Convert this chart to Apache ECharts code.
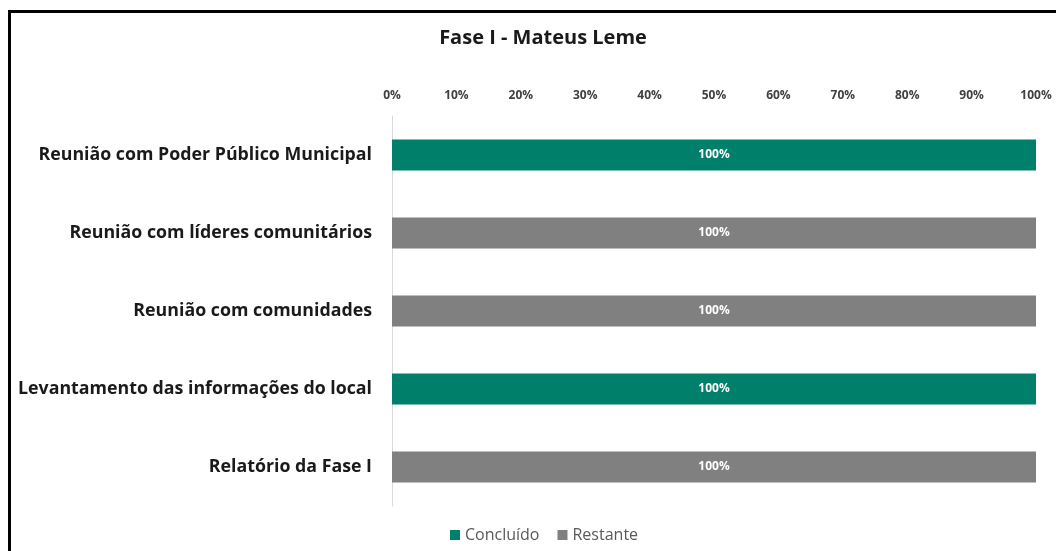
<!DOCTYPE html>
<html><head><meta charset="utf-8">
<script src="https://cdn.jsdelivr.net/npm/echarts@6/dist/echarts.min.js"></script>
<style>
html,body{margin:0;padding:0;background:#fff;}
#frame{position:absolute;left:8px;top:10px;width:1100px;height:600px;border-left:3px solid #000;border-top:3px solid #000;box-sizing:border-box;}
#c{position:absolute;left:0;top:0;width:1056px;height:551px;}
</style></head>
<body>
<div id="frame"></div>
<div id="c"></div>
<script>
const categories = ['Reunião com Poder Público Municipal','Reunião com líderes comunitários','Reunião com comunidades','Levantamento das informações do local','Relatório da Fase I'];
const concluido = [100, 0, 0, 100, 0];
const restante = [0, 100, 100, 0, 100];
const seriesNames = ['Concluído','Restante'];
const FONT = '"Open Sans", sans-serif';
const chart = echarts.init(document.getElementById('c'), null, {renderer:'canvas'});
const lbl = {show:true, position:'inside', color:'#fff', fontWeight:'bold', fontSize:12, fontFamily:FONT,
  formatter: p => p.value > 0 ? p.value + '%' : ''};
chart.setOption({
  animation:false,
  title:{text:'Fase I - Mateus Leme', left:538, textAlign:'center', top:23,
    textStyle:{fontSize:20, fontWeight:'bold', color:'#1a1a1a', fontFamily:FONT}},
  legend:{bottom:3, left:445, itemWidth:10, itemHeight:10, itemGap:18, icon:'rect',
    textStyle:{fontSize:16, color:'#595959', fontFamily:FONT}},
  grid:{left:392, right:20, top:116, bottom:45, containLabel:false},
  xAxis:{type:'value', position:'top', min:0, max:100, interval:10,
    axisLine:{show:false}, axisTick:{show:false}, splitLine:{show:false},
    axisLabel:{formatter:'{value}%', fontSize:12, fontWeight:'bold', color:'#404040', fontFamily:FONT, margin:14}},
  yAxis:{type:'category', data:categories, inverse:true,
    axisLine:{show:true, lineStyle:{color:'#d9d9d9'}}, axisTick:{show:false},
    axisLabel:{fontSize:17.8, fontWeight:'bold', color:'#1a1a1a', fontFamily:FONT, margin:20}},
  series:[
    {name:seriesNames[0], type:'bar', stack:'a', data:concluido, barWidth:'40%', itemStyle:{color:'#00806A'}, label:lbl},
    {name:seriesNames[1], type:'bar', stack:'a', data:restante, barWidth:'40%', itemStyle:{color:'#808080'}, label:lbl}
  ]
});
</script>
</body></html>
